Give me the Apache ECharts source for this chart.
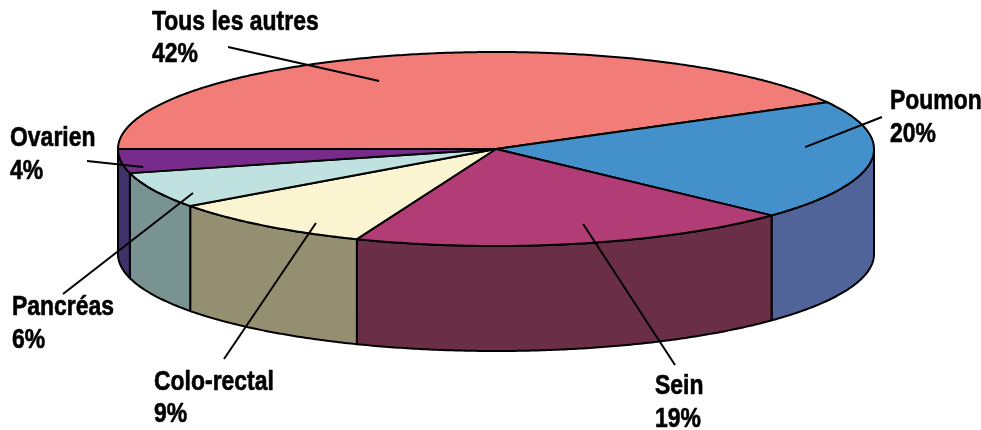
<!DOCTYPE html>
<html>
<head>
<meta charset="utf-8">
<script src="https://cdn.jsdelivr.net/npm/echarts@6/dist/echarts.min.js"></script>
<style>
  html, body { margin: 0; padding: 0; background: #fff; }
  #chart { width: 981px; height: 430px; }
</style>
</head>
<body>
<div id="chart"></div>
<script>
// Cancer share by site, drawn as a tilted 3D pie
const categories = ['Tous les autres', 'Poumon', 'Sein', 'Colo-rectal', 'Pancréas', 'Ovarien'];
const shares = [42, 20, 19, 9, 6, 4];
const topColors = ['#F27C77', '#4490CB', '#B23C76', '#FAF5D0', '#BFE2E0', '#782B8A'];
const sideColors = ['#B85E5A', '#50649A', '#6A2F47', '#958F71', '#789391', '#40316B'];

// Pie geometry (pixels) and label placement
const pie = { cx: 496, cy: 149, rx: 378, ry: 97, depth: 105, start: 180 };
const labelLayout = [
  { x: 152, y: 22.5, lx: 228, ly: 47, at: 246.2, ar: 0.766 },
  { x: 890, y: 102, lx: 882, ly: 117, at: 358.6, ar: 0.818 },
  { x: 655, y: 387, lx: 675, ly: 365, at: 73.4, ar: 0.807 },
  { x: 154, y: 382.5, lx: 224, ly: 359, at: 122, ar: 0.899 },
  { x: 12, y: 308, lx: 63, ly: 294, at: 150.5, ar: 0.921 },
  { x: 10, y: 139, lx: 87, ly: 161, at: 168.7, ar: 0.952 }
];
// bold sans squeezed horizontally to a condensed face
const FONT = 'bold 27px "Liberation Sans", Arial, sans-serif';
const TEXT_SQUEEZE = 0.85;
const LINE_GAP = 32.5;

const total = shares.reduce((a, b) => a + b, 0);
const startAngles = [];
shares.reduce((acc, v) => { startAngles.push(acc); return acc + v / total * 360; }, pie.start);

function pt(deg, dy, f) {
  const r = deg * Math.PI / 180;
  const k = f === undefined ? 1 : f;
  return [pie.cx + pie.rx * k * Math.cos(r), pie.cy + pie.ry * k * Math.sin(r) + (dy || 0)];
}
function arc(a0, a1, dy) {
  const pts = [];
  const n = Math.max(2, Math.ceil(Math.abs(a1 - a0) / 0.5));
  for (let i = 0; i <= n; i++) pts.push(pt(a0 + (a1 - a0) * i / n, dy));
  return pts;
}
function label(text, x, y) {
  return { type: 'text', z2: 4, x: x, y: y, scaleX: TEXT_SQUEEZE,
    style: { text: text, x: 0, y: 0, font: FONT, fill: '#000', stroke: '#000', lineWidth: 0.6,
      textAlign: 'left', textVerticalAlign: 'middle' } };
}

function renderItem(params, api) {
  const i = params.dataIndex;
  const v = api.value(0);
  const a0 = startAngles[i];
  const a1 = a0 + v / total * 360;
  const children = [];
  const stroke = { stroke: '#000', lineWidth: 2, lineJoin: 'round' };

  // front wall: visible part lies between 360 and 540 degrees
  const s0 = Math.max(a0, 360), s1 = Math.min(a1, 540);
  if (s1 > s0) {
    const pts = arc(s0, s1, 0).concat(arc(s1, s0, pie.depth));
    children.push({ type: 'polygon', z2: 1, shape: { points: pts },
      style: Object.assign({ fill: sideColors[i] }, stroke) });
  }
  // top face
  const top = [[pie.cx, pie.cy]].concat(arc(a0, a1, 0));
  children.push({ type: 'polygon', z2: 2, shape: { points: top },
    style: Object.assign({ fill: api.visual('color') }, stroke) });

  // leader line and label
  const L = labelLayout[i];
  const inner = pt(L.at, 0, L.ar);
  children.push({ type: 'line', z2: 3,
    shape: { x1: L.lx, y1: L.ly, x2: inner[0], y2: inner[1] },
    style: { stroke: '#000', lineWidth: 2 } });
  children.push(label(categories[i], L.x, L.y));
  children.push(label(v + '%', L.x, L.y + LINE_GAP));
  return { type: 'group', children: children };
}

const chart = echarts.init(document.getElementById('chart'), null, { renderer: 'canvas' });
chart.setOption({
  animation: false,
  backgroundColor: '#fff',
  series: [{
    type: 'custom',
    coordinateSystem: 'none',
    renderItem: renderItem,
    data: shares.map((v, i) => ({ name: categories[i], value: [v], itemStyle: { color: topColors[i] } }))
  }]
});
</script>
</body>
</html>
